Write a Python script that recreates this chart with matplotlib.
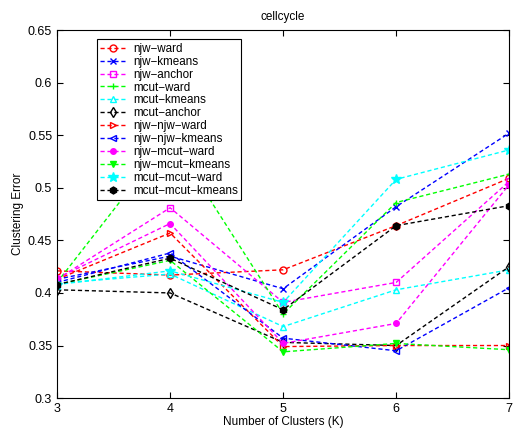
import matplotlib

matplotlib.use("Agg")
import matplotlib.pyplot as plt

plt.rcParams["font.family"] = ["Liberation Sans", "DejaVu Sans"]

clusters = [3, 4, 5, 6, 7]

njw_ward = [0.421, 0.417, 0.422, 0.464, 0.509]
njw_kmeans = [0.413, 0.435, 0.404, 0.482, 0.552]
njw_anchor = [0.413, 0.481, 0.391, 0.410, 0.506]
mcut_ward = [0.410, 0.548, 0.380, 0.486, 0.513]
mcut_kmeans = [0.409, 0.418, 0.368, 0.403, 0.422]
mcut_anchor = [0.403, 0.400, 0.353, 0.350, 0.425]
njw_njw_ward = [0.413, 0.457, 0.349, 0.350, 0.350]
njw_njw_kmeans = [0.410, 0.438, 0.357, 0.345, 0.405]
njw_mcut_ward = [0.414, 0.466, 0.352, 0.371, 0.503]
njw_mcut_kmeans = [0.408, 0.431, 0.344, 0.352, 0.346]
mcut_mcut_ward = [0.408, 0.421, 0.391, 0.508, 0.536]
mcut_mcut_kmeans = [0.408, 0.433, 0.384, 0.464, 0.483]

series = [
    ("njw\u2212ward", njw_ward, "#ff0000", "o", False),
    ("njw\u2212kmeans", njw_kmeans, "#0000ff", "x", False),
    ("njw\u2212anchor", njw_anchor, "#ff00ff", "s", False),
    ("mcut\u2212ward", mcut_ward, "#00ff00", "+", False),
    ("mcut\u2212kmeans", mcut_kmeans, "#00ffff", "^", False),
    ("mcut\u2212anchor", mcut_anchor, "#000000", "d", False),
    ("njw\u2212njw\u2212ward", njw_njw_ward, "#ff0000", ">", False),
    ("njw\u2212njw\u2212kmeans", njw_njw_kmeans, "#0000ff", "<", False),
    ("njw\u2212mcut\u2212ward", njw_mcut_ward, "#ff00ff", "o", True),
    ("njw\u2212mcut\u2212kmeans", njw_mcut_kmeans, "#00ff00", "v", True),
    ("mcut\u2212mcut\u2212ward", mcut_mcut_ward, "#00ffff", "*", True),
    ("mcut\u2212mcut\u2212kmeans", mcut_mcut_kmeans, "#000000", "h", True),
]

fig = plt.figure(figsize=(5.19, 4.29), dpi=100)
ax = fig.add_axes([0.110, 0.072, 0.871, 0.858])

for label, vals, color, marker, filled in series:
    ms = 4 if marker in ("o",) and filled else 5
    if marker == "*":
        ms = 7
    ax.plot(clusters, vals, linestyle=(0, (3, 2)), linewidth=1.0, color=color,
            marker=marker, markersize=ms, markeredgewidth=1.0,
            markerfacecolor=color if filled else "none", markeredgecolor=color,
            label=label)

ax.set_xlim(3, 7)
ax.set_ylim(0.3, 0.65)
ax.set_xticks(clusters)
ax.set_yticks([0.3, 0.35, 0.4, 0.45, 0.5, 0.55, 0.6, 0.65])
ax.set_yticklabels(["0.3", "0.35", "0.4", "0.45", "0.5", "0.55", "0.6", "0.65"])
ax.tick_params(direction="in", top=True, right=True, labelsize=9, length=4)
for s in ax.spines.values():
    s.set_linewidth(0.8)

ax.set_title("cellcycle", fontsize=8.5, pad=7)
ax.set_xlabel("Number of Clusters (K)", fontsize=8.5, labelpad=1)
ax.set_ylabel("Clustering Error", fontsize=8.5, labelpad=3)

leg = ax.legend(loc="upper left", bbox_to_anchor=(0.088, 0.975), fontsize=8.4,
                frameon=True, fancybox=False, edgecolor="black", framealpha=1,
                handlelength=2.1, handletextpad=0.7, labelspacing=0.08,
                borderpad=0.3, borderaxespad=0)
leg.get_frame().set_linewidth(0.8)

fig.savefig("out.png", dpi=100)
